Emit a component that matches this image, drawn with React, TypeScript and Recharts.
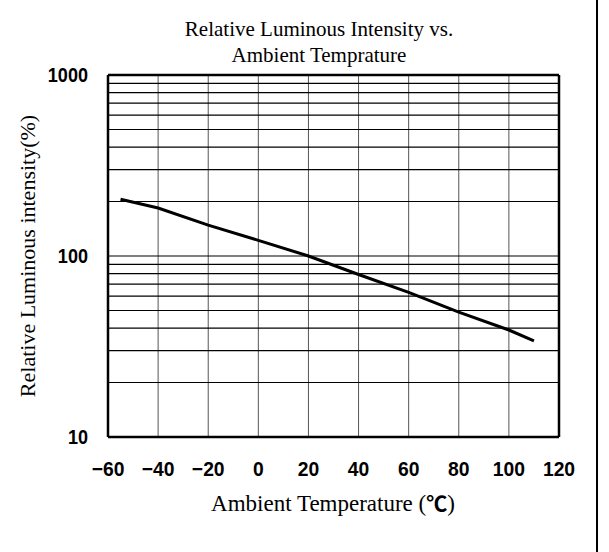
import React from 'react';
import { LineChart, Line, XAxis, YAxis, CartesianGrid, ReferenceLine } from 'recharts';

const temperatures = [-55, -40, -20, 0, 20, 40, 60, 80, 100, 110];
const intensity = [206, 184, 148, 122, 100, 79, 63, 49, 39, 34];
const xTicks = [-60, -40, -20, 0, 20, 40, 60, 80, 100, 120];
const yTicks = [10, 100, 1000];
const gridValues = [20, 30, 40, 50, 60, 70, 80, 90, 100, 200, 300, 400, 500, 600, 700, 800, 900];

const titleLines = ['Relative Luminous Intensity vs.', 'Ambient Temprature'];
const xLabelText = 'Ambient Temperature (';
const xLabelUnit = '\u2103';
const xLabelEnd = ')';
const yLabel = 'Relative Luminous intensity(%)';

const data = temperatures.map((t, i) => ({ t, v: intensity[i] }));

const serif = '"Liberation Serif", "Times New Roman", serif';
const sans = '"Liberation Sans", Arial, sans-serif';
const cjk = '"Noto Sans CJK JP", "Noto Sans CJK SC", sans-serif';

function fmtTick(v: number) {
  return v < 0 ? '\u2212' + Math.abs(v) : String(v);
}

function NarrowTick(props: any) {
  const { x, y, payload, anchor, dy, sx } = props;
  return (
    <g transform={`translate(${x},${y}) scale(${sx},1)`}>
      <text x={0} y={0} dy={dy} textAnchor={anchor} fill="#000" fontSize={21} fontFamily={sans} fontWeight="bold">
        {fmtTick(payload.value)}
      </text>
    </g>
  );
}

export default function App() {
  return (
    <div style={{ position: 'absolute', left: 0, top: 0, width: 609, height: 552, background: '#fff' }}>
      <LineChart width={609} height={552} data={data} margin={{ top: 75, right: 50, bottom: 85, left: 0 }}>
        <CartesianGrid horizontal={false} stroke="#555" strokeWidth={1} />
        {gridValues.map((v) => (
          <ReferenceLine key={v} y={v} stroke="#000" strokeWidth={1.2} />
        ))}
        <ReferenceLine y={1000} stroke="#000" strokeWidth={2.5} />
        <ReferenceLine x={120} stroke="#000" strokeWidth={2.5} />
        <XAxis
          dataKey="t"
          type="number"
          domain={[-60, 120]}
          ticks={xTicks}
          interval={0}
          height={30}
          axisLine={{ stroke: '#000', strokeWidth: 2.5 }}
          tickLine={false}
          tickSize={0}
          tickMargin={24}
          tick={(p: any) => <NarrowTick {...p} anchor="middle" dy="0.71em" sx={0.92} />}
        />
        <YAxis
          type="number"
          scale="log"
          domain={[10, 1000]}
          ticks={yTicks}
          interval={0}
          allowDataOverflow
          width={108}
          axisLine={{ stroke: '#000', strokeWidth: 2.5 }}
          tickLine={false}
          tickSize={0}
          tickMargin={20}
          tick={(p: any) => <NarrowTick {...p} anchor="end" dy="0.355em" sx={0.86} />}
          label={{
            value: yLabel,
            angle: -90,
            position: 'insideLeft',
            offset: 27,
            style: { textAnchor: 'middle', fill: '#000', fontSize: 22, fontFamily: serif },
          }}
        />
        <Line
          type="linear"
          dataKey="v"
          stroke="#000"
          strokeWidth={3}
          dot={false}
          isAnimationActive={false}
        />
      </LineChart>
      <div
        style={{
          position: 'absolute',
          left: 0,
          top: 16,
          width: 638,
          textAlign: 'center',
          fontFamily: serif,
          fontSize: 21,
          lineHeight: '26px',
          color: '#000',
        }}
      >
        {titleLines.map((l) => (
          <div key={l}>{l}</div>
        ))}
      </div>
      <div
        style={{
          position: 'absolute',
          left: 0,
          top: 488,
          width: 666,
          textAlign: 'center',
          fontFamily: serif,
          fontSize: 23,
          lineHeight: '28px',
          color: '#000',
        }}
      >
        {xLabelText}
        <span style={{ fontFamily: cjk, fontSize: 21, fontWeight: 'bold' }}>{xLabelUnit}</span>
        {xLabelEnd}
      </div>
      <div style={{ position: 'absolute', left: 596, top: 0, width: 2, height: 552, background: '#000' }} />
    </div>
  );
}
